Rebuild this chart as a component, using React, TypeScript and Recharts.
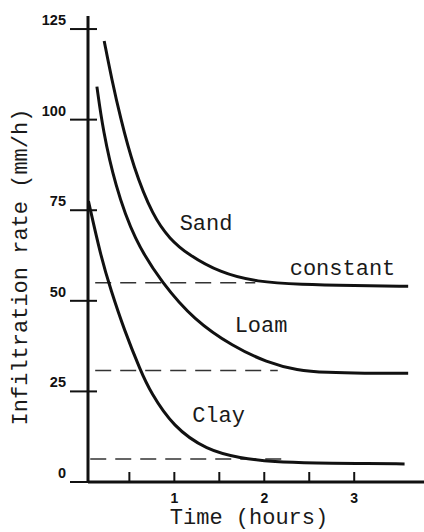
import { LineChart, Line, XAxis, YAxis, ReferenceLine, ReferenceDot, Label } from "recharts";

// time (hours) and infiltration rate (mm/h)
const sandTime = [0.22, 0.306, 0.398, 0.542, 0.764, 0.953, 1.139, 1.509, 1.92, 2.4, 3.0, 3.6];
const sandRate = [121.7, 110.9, 100.8, 87.0, 73.2, 67.0, 63.0, 57.7, 55.2, 54.5, 54.2, 54.0];

const loamTime = [0.139, 0.206, 0.34, 0.553, 0.864, 1.22, 1.653, 2.03, 2.364, 2.7, 3.1, 3.6];
const loamRate = [109.1, 97.1, 82.0, 66.8, 54.9, 44.7, 37.4, 33.0, 30.8, 30.2, 30.0, 30.0];

const clayTime = [0.045, 0.183, 0.294, 0.442, 0.628, 0.731, 0.987, 1.361, 1.731, 2.098, 2.6, 3.0, 3.56];
const clayRate = [77.5, 62.2, 53.0, 42.0, 30.5, 25.0, 15.2, 8.8, 6.6, 5.5, 5.2, 5.1, 5.0];

// dashed "constant" levels and the span they are drawn over
const constantRate = [55.0, 30.8, 6.35];
const constantFrom = [0.12, 0.12, 0.065];
const constantTo = [1.9, 2.15, 2.2];

const yTicks = [0, 25, 50, 75, 100, 125];
const xTicks = [0.5, 1, 1.5, 2, 2.5, 3];
const xTickLabels: Record<string, string> = { "1": "1", "2": "2", "3": "3" };

const toPoints = (ts: number[], vs: number[]) => ts.map((t, i) => ({ t, rate: vs[i] }));

const ink = "#111";
const mono = "'Liberation Mono', monospace";
const sans = "'Liberation Sans', Arial, sans-serif";

function YTick(props: any) {
  const { x, y, payload } = props;
  return (
    <g>
      <line x1={x - 18} x2={x + 9} y1={y} y2={y} stroke={ink} strokeWidth={2} />
      <text
        x={x - 22}
        y={y - 9}
        textAnchor="end"
        dominantBaseline="central"
        fontFamily={sans}
        fontWeight="bold"
        fontSize={14.5}
        fill={ink}
      >
        {payload.value}
      </text>
    </g>
  );
}

function XTick(props: any) {
  const { x, y, payload } = props;
  const label = xTickLabels[String(payload.value)];
  return (
    <g>
      <line x1={x} x2={x} y1={y} y2={y - 10} stroke={ink} strokeWidth={2} />
      {label && (
        <text x={x} y={y + 21} textAnchor="middle" fontFamily={sans} fontWeight="bold" fontSize={14} fill={ink}>
          {label}
        </text>
      )}
    </g>
  );
}

const curveLabel = (value: string) => ({
  value,
  position: "center" as const,
  fontFamily: mono,
  fontSize: 22,
  fill: "#1a1a1a",
});

export default function App() {
  const sand = toPoints(sandTime, sandRate);
  const loam = toPoints(loamTime, loamRate);
  const clay = toPoints(clayTime, clayRate);

  return (
    <div style={{ position: "absolute", left: 0, top: 0, width: 424, height: 532, background: "#fff" }}>
      <LineChart width={424} height={532} margin={{ top: 16, right: 0, bottom: 0, left: 0 }}>
        <XAxis
          dataKey="t"
          type="number"
          domain={[0.04, 3.776]}
          ticks={xTicks}
          interval={0}
          allowDataOverflow
          height={50}
          tickSize={0}
          tickMargin={0}
          tickLine={false}
          axisLine={{ stroke: ink, strokeWidth: 3 }}
          tick={<XTick />}
        >
          <Label
            content={() => (
              <text x={249} y={524} textAnchor="middle" fontFamily={mono} fontSize={22} fill="#1a1a1a">
                Time (hours)
              </text>
            )}
          />
        </XAxis>
        <YAxis
          type="number"
          domain={[0, 128.6]}
          ticks={yTicks}
          interval={0}
          allowDataOverflow
          width={88}
          tickSize={0}
          tickMargin={0}
          tickLine={false}
          axisLine={{ stroke: ink, strokeWidth: 3 }}
          tick={<YTick />}
        >
          <Label
            content={() => (
              <text
                x={27}
                y={267}
                transform="rotate(-90 27 267)"
                textAnchor="middle"
                fontFamily={mono}
                fontSize={22}
                fill="#1a1a1a"
              >
                Infiltration rate (mm/h)
              </text>
            )}
          />
        </YAxis>

        {constantRate.map((r, i) => (
          <ReferenceLine
            key={`c-${i}`}
            segment={[
              { x: constantFrom[i], y: r },
              { x: constantTo[i], y: r },
            ]}
            stroke="#333"
            strokeWidth={1.5}
            strokeDasharray="16 9"
          />
        ))}

        <Line data={sand} dataKey="rate" type="basis" stroke={ink} strokeWidth={3} dot={false} isAnimationActive={false} />
        <Line data={loam} dataKey="rate" type="basis" stroke={ink} strokeWidth={3} dot={false} isAnimationActive={false} />
        <Line data={clay} dataKey="rate" type="basis" stroke={ink} strokeWidth={3} dot={false} isAnimationActive={false} />

        <ReferenceDot x={1.353} y={71.7} r={0} stroke="none" fill="none" label={curveLabel("Sand")} />
        <ReferenceDot x={2.87} y={59.3} r={0} stroke="none" fill="none" label={curveLabel("constant")} />
        <ReferenceDot x={1.964} y={43.6} r={0} stroke="none" fill="none" label={curveLabel("Loam")} />
        <ReferenceDot x={1.492} y={18.8} r={0} stroke="none" fill="none" label={curveLabel("Clay")} />
      </LineChart>
    </div>
  );
}
